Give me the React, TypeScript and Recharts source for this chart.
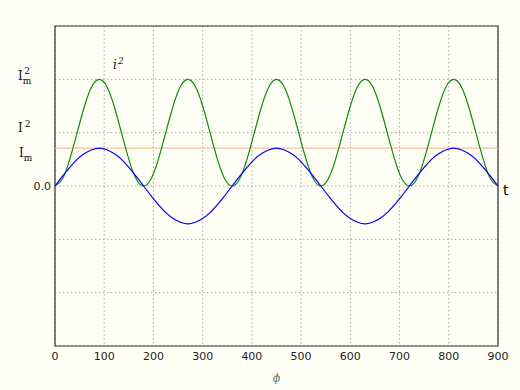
import React from 'react';
import { LineChart, Line, XAxis, YAxis, CartesianGrid, ReferenceLine, ReferenceArea, ReferenceDot } from 'recharts';

// phase angle in degrees
const phi = [
  0, 15, 30, 45, 60, 75, 90, 105, 120, 135, 150, 165,
  180, 195, 210, 225, 240, 255, 270, 285, 300, 315, 330, 345,
  360, 375, 390, 405, 420, 435, 450, 465, 480, 495, 510, 525,
  540, 555, 570, 585, 600, 615, 630, 645, 660, 675, 690, 705,
  720, 735, 750, 765, 780, 795, 810, 825, 840, 855, 870, 885,
  900,
];

// instantaneous current (blue)
const current = [
  0, 0.18, 0.35, 0.5, 0.61, 0.68, 0.71, 0.68, 0.61, 0.5, 0.35, 0.18,
  0, -0.18, -0.35, -0.5, -0.61, -0.68, -0.71, -0.68, -0.61, -0.5, -0.35, -0.18,
  0, 0.18, 0.35, 0.5, 0.61, 0.68, 0.71, 0.68, 0.61, 0.5, 0.35, 0.18,
  0, -0.18, -0.35, -0.5, -0.61, -0.68, -0.71, -0.68, -0.61, -0.5, -0.35, -0.18,
  0, 0.18, 0.35, 0.5, 0.61, 0.68, 0.71, 0.68, 0.61, 0.5, 0.35, 0.18,
  0,
];

// squared current (green)
const currentSq = [
  0, 0.13, 0.5, 1, 1.5, 1.87, 2, 1.87, 1.5, 1, 0.5, 0.13,
  0, 0.13, 0.5, 1, 1.5, 1.87, 2, 1.87, 1.5, 1, 0.5, 0.13,
  0, 0.13, 0.5, 1, 1.5, 1.87, 2, 1.87, 1.5, 1, 0.5, 0.13,
  0, 0.13, 0.5, 1, 1.5, 1.87, 2, 1.87, 1.5, 1, 0.5, 0.13,
  0, 0.13, 0.5, 1, 1.5, 1.87, 2, 1.87, 1.5, 1, 0.5, 0.13,
  0,
];

const xTicks = [0, 100, 200, 300, 400, 500, 600, 700, 800, 900];
const yTicks = [-2, -1, 0, 0.71, 1, 2];
const rmsLevel = 0.71;

const data = phi.map((p, i) => ({ phi: p, i: current[i], i2: currentSq[i] }));

const BG = '#fffff6';
const serif = '"DejaVu Serif", serif';
const sans = '"DejaVu Sans", sans-serif';

const YTick = (props: any) => {
  const { y, payload } = props;
  const v = payload.value;
  if (v === 0) {
    return (
      <text x={51} y={y} dy={4} textAnchor="end" fontSize={11} fontFamily={sans} fill="#222">0.0</text>
    );
  }
  if (v === 2) {
    return (
      <text x={18} y={y + 1} fontSize={12} fontFamily={serif} fill="#111">
        I<tspan fontSize={9} dy={4}>m</tspan>
        <tspan fontSize={9} dx={-7} dy={-10}>2</tspan>
      </text>
    );
  }
  if (v === 1) {
    return (
      <text x={18} y={y - 1} fontSize={12} fontFamily={serif} fill="#111">
        I<tspan fontSize={9} dx={2} dy={-5}>2</tspan>
      </text>
    );
  }
  if (v === 0.71) {
    return (
      <text x={19} y={y + 9} fontSize={12} fontFamily={serif} fill="#111">
        I<tspan fontSize={9} dy={4}>m</tspan>
      </text>
    );
  }
  return null;
};

const TLabel = (props: any) => {
  const vb = props.viewBox || {};
  return (
    <text x={vb.x + 5} y={vb.y + 9} fontSize={14} fontFamily={sans} fill="#000">t</text>
  );
};

const SqLabel = (props: any) => {
  const vb = props.viewBox || {};
  return (
    <text x={vb.x} y={vb.y + 3} fontSize={12} fontFamily={serif} fontStyle="italic" fill="#111">
      i<tspan fontSize={9} dx={1} dy={-5}>2</tspan>
    </text>
  );
};

export default function App() {
  return (
    <div style={{ position: 'absolute', left: 0, top: 0, width: 520, height: 390, background: BG }}>
      <LineChart width={520} height={390} data={data} margin={{ top: 26, right: 22, bottom: 14, left: 0 }}>
        <CartesianGrid stroke="#a8a8a8" strokeDasharray="1.5 2.5" />
        <XAxis
          dataKey="phi"
          type="number"
          domain={[0, 900]}
          ticks={xTicks}
          interval={0}
          axisLine={false}
          tickLine={false}
          tickSize={4}
          tickMargin={2}
          height={30}
          tick={{ fontSize: 11, fontFamily: sans, fill: '#222' }}
          label={{ value: 'ϕ', position: 'insideBottom', offset: -6, fontSize: 11, fontFamily: serif, fontStyle: 'italic', fill: '#666' }}
        />
        <YAxis
          type="number"
          domain={[-3, 3]}
          ticks={yTicks}
          interval={0}
          width={55}
          axisLine={false}
          tickLine={false}
          tick={<YTick />}
        />
        <ReferenceLine y={rmsLevel} stroke="#ffc49c" strokeWidth={1} />
        <Line type="natural" dataKey="i2" stroke="#108a10" strokeWidth={1.2} dot={false} isAnimationActive={false} />
        <Line type="natural" dataKey="i" stroke="#0000ff" strokeWidth={1.2} dot={false} isAnimationActive={false} />
        <ReferenceArea x1={0} x2={900} y1={-3} y2={3} fill="none" stroke="#333" strokeWidth={1.2} />
        <ReferenceDot x={900} y={0} r={0} fill="none" stroke="none" label={<TLabel />} />
        <ReferenceDot x={118} y={2.25} r={0} fill="none" stroke="none" label={<SqLabel />} />
      </LineChart>
    </div>
  );
}
